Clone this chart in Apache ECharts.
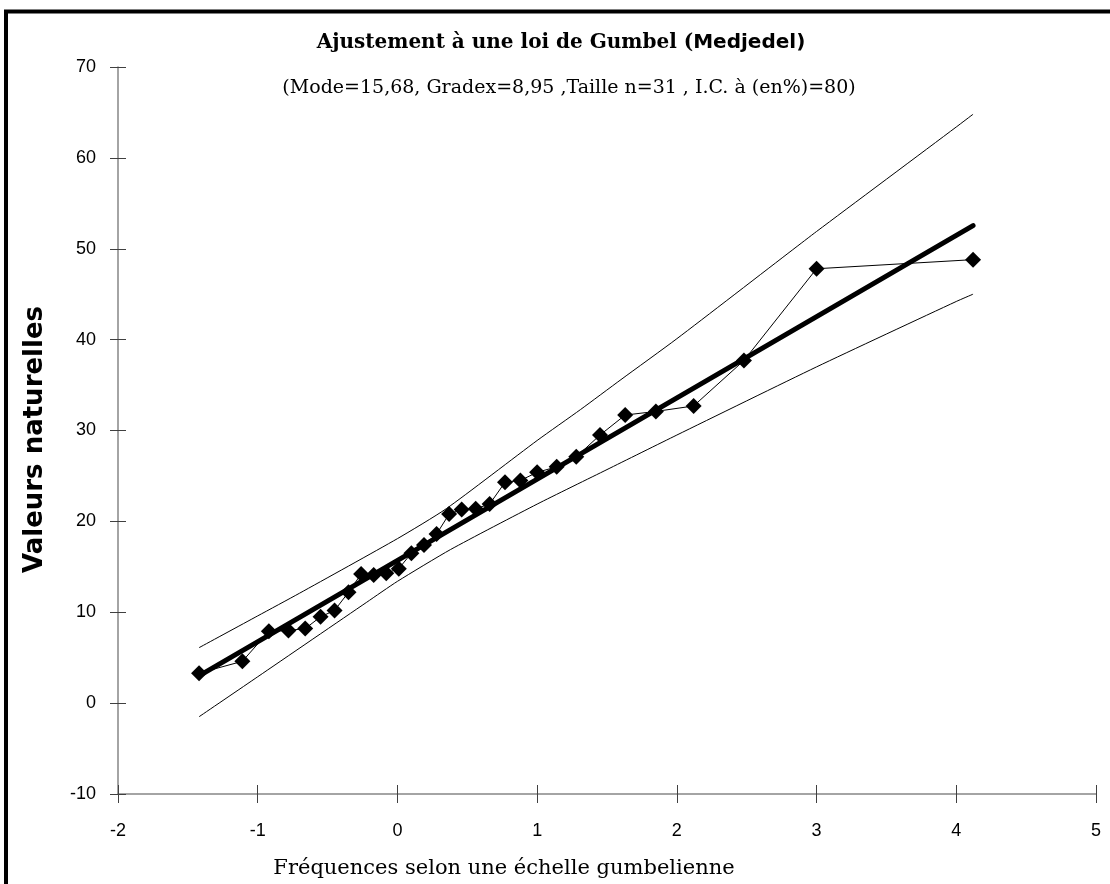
<!DOCTYPE html>
<html>
<head>
<meta charset="utf-8">
<script src="https://cdn.jsdelivr.net/npm/echarts@6/dist/echarts.min.js"></script>
<style>
  html, body { margin: 0; padding: 0; background: #fff; }
  #chart { width: 1110px; height: 884px; }
</style>
</head>
<body>
<div id="chart"></div>
<script>
// Fréquences (variable réduite de Gumbel) et valeurs observées
const freqObs = [-1.42, -1.11, -0.92, -0.78, -0.66, -0.55, -0.45, -0.35, -0.26, -0.17, -0.08,
  0.01, 0.10, 0.19, 0.28, 0.37, 0.46, 0.56, 0.66, 0.77, 0.88, 1.00, 1.14, 1.28, 1.45,
  1.63, 1.85, 2.12, 2.48, 3.00, 4.12];
const valObs = [3.3, 4.6, 7.9, 8.0, 8.2, 9.5, 10.2, 12.2, 14.2, 14.1, 14.3,
  14.8, 16.5, 17.4, 18.6, 20.8, 21.3, 21.4, 21.9, 24.3, 24.5, 25.4, 26.0, 27.1, 29.5,
  31.7, 32.1, 32.7, 37.7, 47.8, 48.8];

// droite d'ajustement
const freqFit = [-1.42, 4.12];
const valFit = [3.0, 52.55];

// bornes de l'intervalle de confiance
const freqUp = [-1.42, -1, -0.7, 0, 0.35, 1, 1.31, 1.6, 2, 2.83, 3, 4, 4.12];
const valUp = [6.1, 9.6, 12.1, 18.1, 21.4, 28.9, 32.3, 35.6, 40.1, 49.9, 51.9, 63.4, 64.8];
const freqLow = [-1.42, -1, -0.22, 0, 0.38, 1, 1.5, 2, 3, 4, 4.12];
const valLow = [-1.5, 2.9, 11.1, 13.4, 16.9, 21.9, 25.7, 29.5, 37.0, 44.2, 45.0];

const pairs = (xs, ys) => xs.map((x, i) => [x, ys[i]]);

const chartDom = document.getElementById("chart");
const myChart = echarts.init(chartDom);

const tickLabel = { fontFamily: "Liberation Sans", fontSize: 18, color: "#000" };

const option = {
  animation: false,
  backgroundColor: "#fff",
  title: [
    {
      text: "{a|Ajustement à une loi de Gumbel (}{b|Medjedel)}",
      left: 556,
      top: 28,
      textAlign: "center",
      textStyle: {
        rich: {
          a: { fontFamily: "DejaVu Serif", fontWeight: "bold", fontSize: 20, color: "#000" },
          b: { fontFamily: "DejaVu Sans", fontWeight: "bold", fontSize: 20, color: "#000" },
        },
      },
    },
    {
      text: "(Mode=15,68, Gradex=8,95 ,Taille n=31 , I.C. à (en%)=80)",
      left: 564,
      top: 74,
      textAlign: "center",
      textStyle: { fontFamily: "DejaVu Serif", fontWeight: "normal", fontSize: 19, color: "#000" },
    },
  ],
  graphic: [
    {
      type: "rect",
      shape: { x: 6, y: 11.5, width: 1300, height: 1000 },
      style: { fill: null, stroke: "#000", lineWidth: 4 },
      silent: true,
    },
  ],
  grid: { left: 118, right: 14, top: 67, bottom: 90 },
  xAxis: [
    {
      type: "value",
      min: -2,
      max: 5,
      interval: 1,
      name: "Fréquences selon une échelle gumbelienne",
      nameLocation: "middle",
      nameGap: 64,
      nameTextStyle: { fontFamily: "DejaVu Serif", fontSize: 21, color: "#000", padding: [0, 206, 0, 0] },
      axisLine: { onZero: false, lineStyle: { color: "#868686", width: 1.5 } },
      axisTick: { length: 9, lineStyle: { color: "#404040" } },
      axisLabel: Object.assign({ margin: 28 }, tickLabel),
      splitLine: { show: false },
    },
    {
      type: "value",
      min: -2,
      max: 5,
      interval: 1,
      position: "bottom",
      axisLine: { show: false, onZero: false },
      axisTick: { inside: true, length: 9, lineStyle: { color: "#404040" } },
      axisLabel: { show: false },
      splitLine: { show: false },
    },
  ],
  yAxis: [
    {
      type: "value",
      min: -10,
      max: 70,
      interval: 10,
      name: "Valeurs naturelles",
      nameLocation: "middle",
      nameGap: 70,
      nameTextStyle: { fontFamily: "DejaVu Sans", fontWeight: "bold", fontSize: 26, color: "#000", padding: [0, 18, 0, 0] },
      axisLine: { onZero: false, lineStyle: { color: "#868686", width: 1.5 } },
      axisTick: { length: 8, lineStyle: { color: "#404040" } },
      axisLabel: Object.assign({ margin: 22 }, tickLabel),
      splitLine: { show: false },
    },
    {
      type: "value",
      min: -10,
      max: 70,
      interval: 10,
      position: "left",
      axisLine: { show: false, onZero: false },
      axisTick: { inside: true, length: 8, lineStyle: { color: "#404040" } },
      axisLabel: { show: false },
      splitLine: { show: false },
    },
  ],
  series: [
    {
      name: "Borne supérieure",
      type: "line",
      data: pairs(freqUp, valUp),
      smooth: 0.2,
      symbol: "none",
      lineStyle: { color: "#000", width: 1 },
    },
    {
      name: "Borne inférieure",
      type: "line",
      data: pairs(freqLow, valLow),
      smooth: 0.2,
      symbol: "none",
      lineStyle: { color: "#000", width: 1 },
    },
    {
      name: "Ajustement",
      type: "line",
      data: pairs(freqFit, valFit),
      symbol: "none",
      lineStyle: { color: "#000", width: 5, cap: "round" },
    },
    {
      name: "Observations",
      type: "line",
      data: pairs(freqObs, valObs),
      symbol: "diamond",
      symbolSize: 16,
      itemStyle: { color: "#000" },
      lineStyle: { color: "#000", width: 1 },
    },
  ],
};

myChart.setOption(option);

window.addEventListener("resize", function () {
  myChart.resize();
});
</script>
</body>
</html>
